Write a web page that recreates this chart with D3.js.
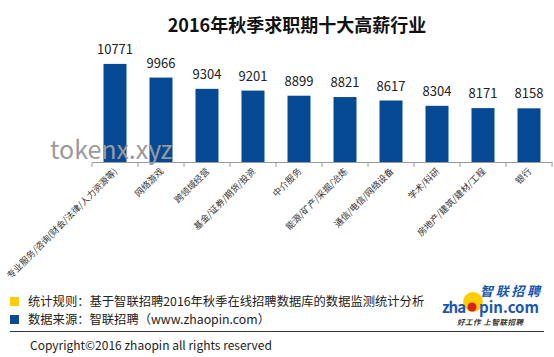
<!DOCTYPE html>
<html><head><meta charset="utf-8">
<script src="https://cdn.jsdelivr.net/npm/d3@7"></script>
<style>body{margin:0;background:#fff}svg{display:block}text{font-family:"Microsoft YaHei","Noto Sans CJK SC",sans-serif}</style>
</head><body><svg id="c" width="554" height="357"></svg>
<script>
const categories = ["专业服务/咨询(财会/法律/人力资源等)","网络游戏","跨领域经营","基金/证券/期货/投资","中介服务","能源/矿产/采掘/冶炼","通信/电信/网络设备","学术/科研","房地产/建筑/建材/工程","银行"];
const salaries = [10771,9966,9304,9201,8899,8821,8617,8304,8171,8158];
const yDomain = [5000, 12000];

const svg = d3.select("#c");
const x = d3.scaleBand().domain(categories).range([92, 552]).paddingInner(0.5).paddingOuter(0.25);
const y = d3.scaleLinear().domain(yDomain).range([162, 43]);

svg.append("text").attr("x", 297).attr("y", 32).attr("text-anchor","middle")
  .attr("font-size", 18).attr("font-weight","bold").attr("fill","#111").text("2016年秋季求职期十大高薪行业");

svg.selectAll("rect.bar").data(categories).join("rect").attr("class","bar")
  .attr("x", d => x(d)).attr("width", x.bandwidth())
  .attr("y", (d,i) => y(salaries[i])).attr("height", (d,i) => y(yDomain[0]) - y(salaries[i]))
  .attr("fill", "#064a96");

svg.selectAll("text.val").data(categories).join("text").attr("class","val")
  .attr("x", d => x(d) + x.bandwidth()/2).attr("y", (d,i) => y(salaries[i]) - 10)
  .attr("text-anchor","middle").attr("font-size", 13).attr("fill","#222")
  .attr("font-family","Calibri, Carlito, Liberation Sans, sans-serif")
  .text((d,i) => salaries[i]);

// axis
const band = d3.scaleBand().domain(categories).range([92, 552]);
const axis = svg.append("g").attr("transform","translate(0,162)")
  .call(d3.axisBottom(band).tickSize(0).tickFormat(""));
axis.select(".domain").attr("stroke","#9a9a9a");
const edges = categories.map(c => band(c)).concat([552]);
svg.selectAll("line.tk").data(edges).join("line").attr("class","tk")
  .attr("x1", d => d).attr("x2", d => d).attr("y1", 162).attr("y2", 167).attr("stroke","#9a9a9a");

svg.selectAll("text.cat").data(categories).join("text").attr("class","cat")
  .attr("transform", d => `translate(${band(d)+band.bandwidth()/2+3},172) rotate(-45)`)
  .attr("text-anchor","end").attr("font-size", 9).attr("fill","#333").text(d => d);

// watermark (drawn over bars as in reference)
svg.append("text").attr("x", 50).attr("y", 159).attr("font-size", 25).attr("fill","#9a9a9a")
  .attr("font-family","Arial, Liberation Sans, sans-serif").text("tokenx.xyz");

// legend
const legend = [
  {c:"#ffcc00", t:"统计规则：基于智联招聘2016年秋季在线招聘数据库的数据监测统计分析", y:297},
  {c:"#0a4a97", t:"数据来源：智联招聘（www.zhaopin.com）", y:315}
];
legend.forEach(l => {
  svg.append("rect").attr("x",10).attr("y",l.y).attr("width",9).attr("height",9).attr("fill",l.c);
  svg.append("text").attr("x",28).attr("y",l.y+9).attr("font-size",12.3).attr("fill","#222").text(l.t);
});
svg.append("line").attr("x1",10).attr("x2",544).attr("y1",331.5).attr("y2",331.5).attr("stroke","#333");
svg.append("text").attr("x",30).attr("y",350).attr("font-size",12).attr("fill","#222")
  .attr("font-family","Calibri, Carlito, Liberation Sans, sans-serif").text("Copyright©2016 zhaopin all rights reserved");

// logo
const lg = svg.append("g");
lg.append("circle").attr("cx",473).attr("cy",302).attr("r",10).attr("fill","#ffcc00");
lg.append("text").attr("x",480).attr("y",296).attr("font-size",13).attr("font-weight","bold")
  .attr("font-style","italic").attr("fill","#1a56b0").attr("textLength",60).text("智联招聘");
lg.append("text").attr("x",442).attr("y",313).attr("font-size",15).attr("font-weight","bold")
  .attr("font-family","Arial, Liberation Sans, sans-serif").attr("fill","#1a56b0").attr("textLength",24).text("zha");
lg.append("circle").attr("cx",472).attr("cy",307).attr("r",4.5).attr("fill","#d8201f");
lg.append("text").attr("x",479).attr("y",313).attr("font-size",15).attr("font-weight","bold")
  .attr("font-family","Arial, Liberation Sans, sans-serif").attr("fill","#1a56b0").attr("textLength",60).text("pin.com");
lg.append("text").attr("x",457).attr("y",325).attr("font-size",7.5).attr("font-weight","bold").attr("font-style","italic")
  .attr("fill","#333").attr("textLength",66).text("好工作  上智联招聘");
</script></body></html>
